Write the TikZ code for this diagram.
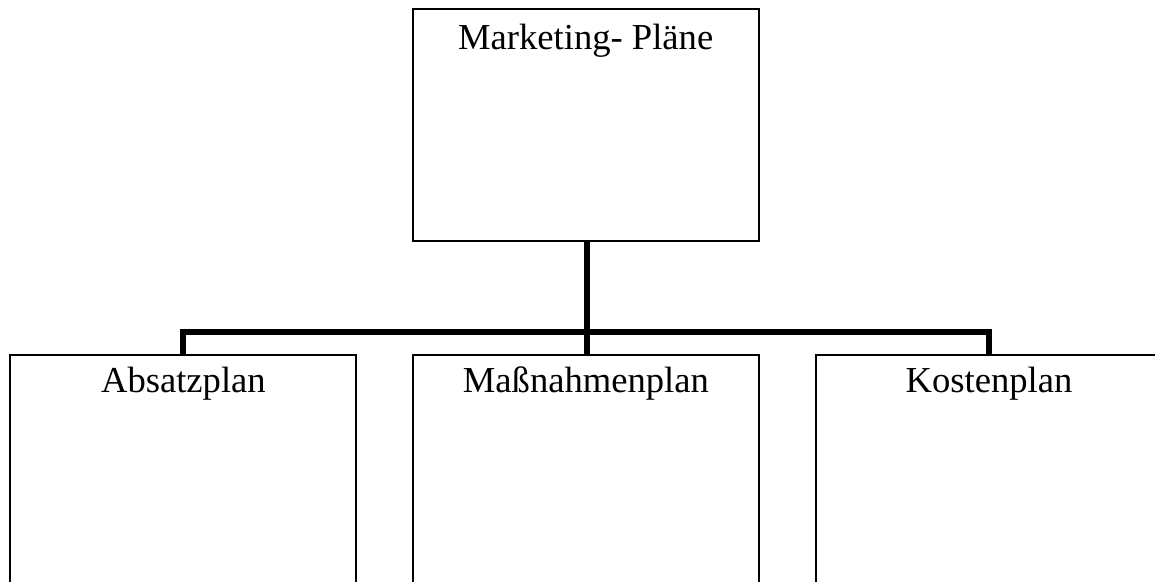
\documentclass[tikz,border=0pt]{standalone}
\usepackage{fontspec}
\setmainfont{Liberation Serif}
\begin{document}
\begin{tikzpicture}[x=1pt,y=-1pt,
  planbox/.style={draw=black, line width=2pt, inner sep=0pt, anchor=north,
    minimum width=346pt, text depth=#1, text height=37pt,
    font=\fontsize{36.6}{44}\selectfont},
  busline/.style={line width=6pt, line cap=butt, line join=miter}]
  \useasboundingbox (0,0) rectangle (1155,581);
  \clip (0,0) rectangle (1155,581);
  % top-level plan
  \node[planbox=192pt, text height=40pt] (top) at (585.7,8) {Marketing- Pläne};
  % sub-plans
  \node[planbox=300pt] (absatz) at (183.4,354) {Absatzplan};
  \node[planbox=300pt] (massnahmen) at (585.9,354) {Maßnahmenplan};
  \node[planbox=300pt] (kosten) at (989,354) {Kostenplan};
  % tree connectors
  \coordinate (j) at ([yshift=-90pt]top.south);
  \draw[busline] ([xshift=1.3pt]top.south) -- ([xshift=1.3pt]j);
  \draw[busline] (absatz.north) -- (absatz.north |- j) -- (kosten.north |- j) -- (kosten.north);
  \draw[busline] ([xshift=1pt]massnahmen.north) -- ([xshift=1pt]massnahmen.north |- j);
\end{tikzpicture}
\end{document}
